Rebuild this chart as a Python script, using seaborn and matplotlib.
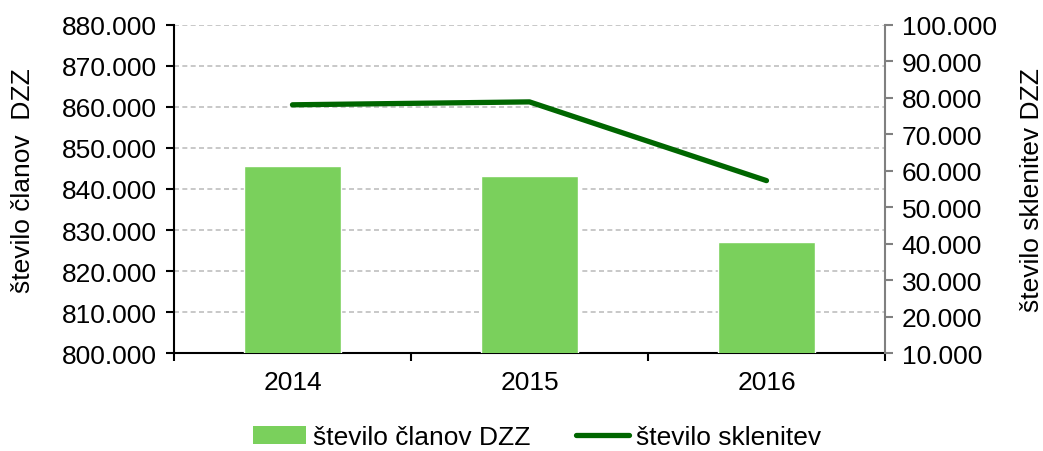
import matplotlib
matplotlib.use('Agg')
import pandas as pd
import matplotlib.pyplot as plt
import seaborn as sns
from matplotlib.ticker import FuncFormatter, FixedLocator
from matplotlib.patches import Patch
from matplotlib.lines import Line2D

# Data
years = ['2014', '2015', '2016']
clani_dzz = [845.6, 843.2, 827.0]        # v tisočih
sklenitve = [78.1, 78.9, 57.3]           # v tisočih

bar_color = '#7AD05C'
line_color = '#006600'

sns.set_style('white')
plt.rcParams['font.family'] = ['Liberation Sans', 'DejaVu Sans']
plt.rcParams['text.color'] = 'black'
plt.rcParams['axes.labelcolor'] = 'black'
plt.rcParams['xtick.color'] = 'black'
plt.rcParams['ytick.color'] = 'black'

FS = 19


def thousands(v, pos):
    return f'{v:.3f}'


df = pd.DataFrame({'leto': years, 'clani': clani_dzz, 'sklenitve': sklenitve})

fig = plt.figure(figsize=(10.43, 4.52), dpi=100)
ax = fig.add_axes([0.1668, 0.2168, 0.6817, 0.7257])

sns.barplot(data=df, x='leto', y='clani', color=bar_color, width=0.41,
            saturation=1, ax=ax, zorder=3)
ax.set_ylim(800, 880)
ax.set_xlim(-0.5, 2.5)
ax.set_yticks(range(800, 881, 10))
ax.yaxis.set_major_formatter(FuncFormatter(thousands))
ax.grid(axis='y', color='#BFBFBF', linestyle=(0, (3, 2)), linewidth=1.2, zorder=0)
ax.set_axisbelow(True)
ax.set_xlabel('')
ax.set_ylabel('število članov  DZZ', fontsize=FS)
ax.yaxis.set_label_coords(-0.195, 0.53)
ax.tick_params(axis='y', labelsize=FS, direction='out', length=6, width=1.5,
               left=True, color='black', pad=6)
ax.tick_params(axis='x', labelsize=FS, length=0, pad=12)
ax.xaxis.set_minor_locator(FixedLocator([-0.5, 0.5, 1.5, 2.5]))
ax.tick_params(axis='x', which='minor', direction='out', length=6, width=1.5,
               bottom=True, color='black')
for s in ['left', 'bottom']:
    ax.spines[s].set_color('black')
    ax.spines[s].set_linewidth(1.5)
ax.spines['top'].set_visible(False)
ax.spines['right'].set_visible(False)

ax2 = ax.twinx()
sns.lineplot(x=[0, 1, 2], y=df['sklenitve'], color=line_color, linewidth=3.8,
             solid_capstyle='round', ax=ax2, zorder=4)
ax2.set_ylim(10, 100)
ax2.set_yticks(range(10, 101, 10))
ax2.yaxis.set_major_formatter(FuncFormatter(thousands))
ax2.set_ylabel('število sklenitev DZZ', fontsize=FS, labelpad=17)
ax2.tick_params(axis='y', labelsize=FS, direction='out', length=6, width=1.5,
                right=True, color='#808080', pad=6)
for s in ['left', 'top', 'bottom']:
    ax2.spines[s].set_visible(False)
ax2.spines['right'].set_color('#808080')
ax2.spines['right'].set_linewidth(1.5)

handles = [Patch(facecolor=bar_color, edgecolor='none'),
           Line2D([0], [0], color=line_color, linewidth=3.8, solid_capstyle='round')]
fig.legend(handles, ['število članov DZZ', 'število sklenitev'],
           loc='center', bbox_to_anchor=(0.515, 0.03), ncol=2, frameon=False,
           fontsize=FS, handlelength=2.0, handletextpad=0.27, columnspacing=1.7)

plt.savefig('out.png', dpi=100)
